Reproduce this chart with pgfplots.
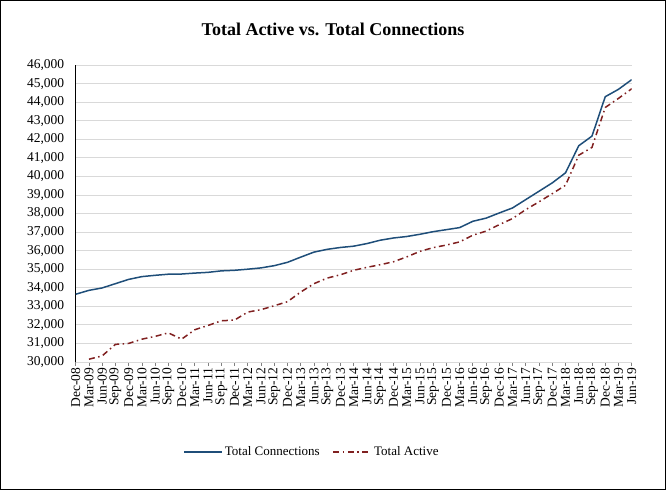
\documentclass[border=0pt]{standalone}
\usepackage{fontspec}
\setmainfont{Liberation Serif}
\usepackage{pgfplots}
\pgfplotsset{compat=1.18}

\definecolor{connblue}{RGB}{31,78,121}
\definecolor{actred}{RGB}{128,32,32}
\definecolor{gridgray}{RGB}{217,217,217}

\begin{document}
\begin{tikzpicture}
\useasboundingbox (-75.7bp,-128bp) rectangle (590.3bp,362bp);
\draw[line width=1.3bp] (-75.05bp,-127.35bp) rectangle (589.65bp,361.35bp);
\begin{axis}[
    at={(0,0)}, anchor=origin,
    scale only axis,
    width=556bp, height=297bp,
    xmin=0, xmax=42,
    ymin=30000, ymax=46000,
    ytick={30000,31000,...,46000},
    xtick={0,...,42},
    xticklabels={Dec-08,Mar-09,Jun-09,Sep-09,Dec-09,Mar-10,Jun-10,Sep-10,Dec-10,Mar-11,Jun-11,Sep-11,Dec-11,Mar-12,Jun-12,Sep-12,Dec-12,Mar-13,Jun-13,Sep-13,Dec-13,Mar-14,Jun-14,Sep-14,Dec-14,Mar-15,Jun-15,Sep-15,Dec-15,Mar-16,Jun-16,Sep-16,Dec-16,Mar-17,Jun-17,Sep-17,Dec-17,Mar-18,Jun-18,Sep-18,Dec-18,Mar-19,Jun-19},
    axis lines*=left,
    x axis line style={gridgray, line width=0.8bp},
    y axis line style={black, line width=1.5bp},
    ymajorgrids,
    major grid style={gridgray, line width=0.8bp},
    ytick style={draw=none},
    xtick style={gray, line width=0.7bp},
    xtick align=outside,
    major tick length=4bp,
    scaled y ticks=false,
    /pgf/number format/.cd, 1000 sep={,}, assume math mode=true,
    /pgfplots/.cd,
    ticklabel style={font=\fontsize{13.5bp}{16bp}\selectfont},
    yticklabel style={xshift=-8bp},
    xticklabel style={rotate=90, anchor=east, inner xsep=1.5bp, inner ysep=0pt},
    legend columns=2,
    legend style={at={(0.425,-0.303)}, anchor=center, draw=none, fill=none,
        font=\fontsize{13bp}{16bp}\selectfont,
        /tikz/every even column/.append style={column sep=11bp}},
    legend image code/.code={\draw[#1] (0bp,0bp) -- (38bp,0bp);},
]
\addplot[connblue, line width=1.5bp] coordinates {
(0,33650) (1,33860) (2,33990) (3,34220) (4,34450) (5,34600) (6,34670)
(7,34730) (8,34740) (9,34790) (10,34830) (11,34910) (12,34940) (13,35000)
(14,35070) (15,35190) (16,35370) (17,35650) (18,35920) (19,36070) (20,36170)
(21,36240) (22,36380) (23,36560) (24,36680) (25,36760) (26,36880) (27,37020)
(28,37130) (29,37240) (30,37580) (31,37750) (32,38030) (33,38300) (34,38750)
(35,39200) (36,39650) (37,40190) (38,41650) (39,42170) (40,44290) (41,44690)
(42,45210)
};
\addlegendentry{Total Connections}
\addplot[actred, line width=1.5bp, dash pattern=on 6bp off 3.5bp on 1.5bp off 3.5bp] coordinates {
(1,30150) (2,30330) (3,30950) (4,31000) (5,31230) (6,31380) (7,31570)
(8,31230) (9,31740) (10,31970) (11,32220) (12,32260) (13,32690) (14,32820)
(15,33030) (16,33250) (17,33770) (18,34220) (19,34520) (20,34700) (21,34940)
(22,35100) (23,35240) (24,35400) (25,35660) (26,35960) (27,36160) (28,36300)
(29,36470) (30,36830) (31,37050) (32,37400) (33,37730) (34,38210) (35,38630)
(36,39070) (37,39520) (38,41140) (39,41560) (40,43710) (41,44200) (42,44720)
};
\addlegendentry{Total Active}
\end{axis}
\node[font=\fontsize{18bp}{22bp}\selectfont\bfseries] at (257.3bp,333bp) {Total Active vs. Total Connections};
\end{tikzpicture}
\end{document}
